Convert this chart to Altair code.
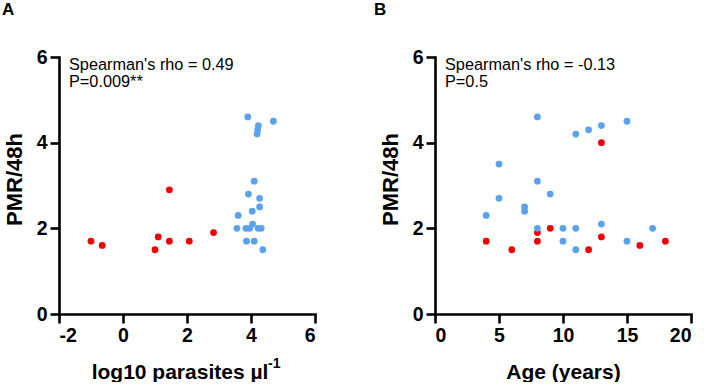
import altair as alt
import pandas as pd

# Panel A: log10 parasites vs PMR/48h
a_red_x = [-1.0, -0.65, 1.0, 1.1, 1.45, 1.45, 2.07, 2.83]
a_red_y = [1.7, 1.6, 1.5, 1.8, 2.9, 1.7, 1.7, 1.9]
a_blue_x = [3.9, 4.7, 4.23, 4.21, 4.19, 4.1, 3.92, 4.27, 4.27, 4.04, 3.6, 4.05,
            3.56, 3.84, 3.96, 4.22, 4.32, 3.86, 4.1, 4.37]
a_blue_y = [4.6, 4.5, 4.4, 4.3, 4.2, 3.1, 2.8, 2.7, 2.5, 2.4, 2.3, 2.1,
            2.0, 2.0, 2.0, 2.0, 2.0, 1.7, 1.7, 1.5]

# Panel B: age vs PMR/48h
b_red_x = [4, 6, 8, 8, 9, 12, 13, 13, 16, 18]
b_red_y = [1.7, 1.5, 1.9, 1.7, 2.0, 1.5, 1.8, 4.0, 1.6, 1.7]
b_blue_x = [4, 5, 5, 7, 7, 8, 8, 8, 9, 10, 10, 11, 11, 11, 12, 13, 13, 15, 15, 17]
b_blue_y = [2.3, 3.5, 2.7, 2.5, 2.4, 4.6, 3.1, 2.0, 2.8, 2.0, 1.7, 4.2, 2.0, 1.5,
            4.3, 4.4, 2.1, 4.5, 1.7, 2.0]

a_xticks = [-2, 0, 2, 4, 6]
b_xticks = [0, 5, 10, 15, 20]
y_ticks = [0, 2, 4, 6]

RED = "#F20000"
BLUE = "#5AA2EE"
FONT = "Liberation Sans"
W, H = 256, 257


def text_layer(txt, x, y, size, weight="normal", align="left"):
    return alt.Chart(pd.DataFrame({"t": [txt]})).mark_text(
        font=FONT, fontSize=size, fontWeight=weight, align=align,
        baseline="alphabetic", color="black"
    ).encode(x=alt.value(x), y=alt.value(y), text="t:N")


def panel(rx, ry, bx, by, xdom, xticks, xtitle, title_x, label, label_x,
          line1, line2, extra=None):
    red = pd.DataFrame({"x": rx, "y": ry})
    blue = pd.DataFrame({"x": bx, "y": by})
    xs = alt.Scale(domain=xdom, nice=False, zero=False)
    ys = alt.Scale(domain=[0, 6], nice=False)
    xax = alt.Axis(values=xticks, title=xtitle, titleX=title_x, titleY=64,
                   titleBaseline="alphabetic", titleAlign="center",
                   titleFontSize=21,
                   labelExpr="replace(datum.label, '\u2212', '-')")
    yax = alt.Axis(values=y_ticks, title="PMR/48h", titleX=-38, titleY=122,
                   titleAngle=270, titleBaseline="alphabetic", titleAlign="center",
                   titleFontSize=22)
    r = alt.Chart(red).mark_circle(size=46, opacity=1, color=RED).encode(
        x=alt.X("x:Q", scale=xs, axis=xax), y=alt.Y("y:Q", scale=ys, axis=yax))
    b = alt.Chart(blue).mark_circle(size=46, opacity=1, color=BLUE).encode(
        x=alt.X("x:Q", scale=xs), y=alt.Y("y:Q", scale=ys))
    layers = [r, b,
              text_layer(line1, 10, 12.5, 16.3),
              text_layer(line2, 10, 29.5, 16.3),
              text_layer(label, label_x, -42, 17, "bold")]
    if extra is not None:
        layers.append(extra)
    return alt.layer(*layers).properties(width=W, height=H)


sup = text_layer("-1", 209, 311, 14, "bold")

pa = panel(a_red_x, a_red_y, a_blue_x, a_blue_y, [-2, 6], a_xticks,
           "log10 parasites µl", 120.5, "A", -57,
           "Spearman's rho = 0.49", "P=0.009**", sup)
pb = panel(b_red_x, b_red_y, b_blue_x, b_blue_y, [0, 20], b_xticks,
           "Age (years)", 128, "B", -61,
           "Spearman's rho = -0.13", "P=0.5")

chart = alt.hconcat(pa, pb, spacing=57).properties(
    padding={"left": 2, "top": 1, "right": 0, "bottom": 0},
    background="white",
).configure_view(stroke=None).configure_axis(
    grid=False, domainColor="black", domainWidth=2.6, tickColor="black",
    tickWidth=2.6, tickSize=9, labelFont=FONT, labelFontSize=19.5,
    labelFontWeight="bold", labelColor="black", labelPadding=3,
    titleFont=FONT, titleFontSize=20, titleFontWeight="bold", titleColor="black",
    domainCap="square"
)

chart.save("out.html", embed_options={"renderer": "svg", "actions": False})
